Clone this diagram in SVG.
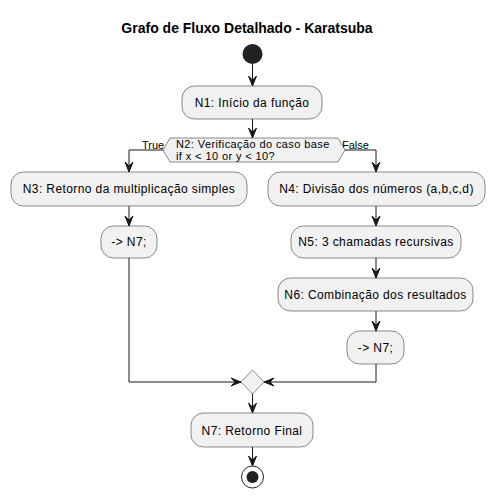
<svg xmlns="http://www.w3.org/2000/svg" width="496" height="500" viewBox="0 0 496 500">
<defs>
<style>
.box{fill:#F1F1F1;stroke:#181818;stroke-width:0.5}
.t{font-family:"Liberation Sans",Arial,sans-serif;font-size:12px;letter-spacing:0.4px;fill:#000;text-anchor:middle}
.s{font-family:"Liberation Sans",Arial,sans-serif;font-size:11px;fill:#000}
.h{letter-spacing:0.4px}
.ln{fill:none;stroke:#181818;stroke-width:1}
.ah{fill:#181818;stroke:#181818;stroke-width:1}
</style>
</defs>
<rect width="496" height="500" fill="#FFFFFF"/>
<text x="247" y="33" font-family="'Liberation Sans',Arial,sans-serif" font-size="14" font-weight="bold" text-anchor="middle">Grafo de Fluxo Detalhado - Karatsuba</text>

<g id="connectors">
<path class="ln" d="M252.5,64 V86"/>
<polygon class="ah" points="248.5,76 252.5,86 256.5,76 252.5,80"/>
<path class="ln" d="M252.5,119 V138"/>
<polygon class="ah" points="248.5,128 252.5,138 256.5,128 252.5,132"/>
<path class="ln" d="M163,150 H129 V172"/>
<polygon class="ah" points="125,162 129,172 133,162 129,166"/>
<path class="ln" d="M345,150 H376 V172"/>
<polygon class="ah" points="372,162 376,172 380,162 376,166"/>
<path class="ln" d="M129,206 V226"/>
<polygon class="ah" points="125,216 129,226 133,216 129,220"/>
<path class="ln" d="M376,206 V226"/>
<polygon class="ah" points="372,216 376,226 380,216 376,220"/>
<path class="ln" d="M376,258 V278"/>
<polygon class="ah" points="372,268 376,278 380,268 376,272"/>
<path class="ln" d="M376,311 V331"/>
<polygon class="ah" points="372,321 376,331 380,321 376,325"/>
<path class="ln" d="M129,258 V382 H241"/>
<polygon class="ah" points="231,378 241,382 231,386 235,382"/>
<path class="ln" d="M376,364 V382 H264"/>
<polygon class="ah" points="274,378 264,382 274,386 270,382"/>
<path class="ln" d="M252.5,394 V413"/>
<polygon class="ah" points="248.5,403 252.5,413 256.5,403 252.5,407"/>
<path class="ln" d="M252.5,447 V466"/>
<polygon class="ah" points="248.5,456 252.5,466 256.5,456 252.5,460"/>
<text class="s" x="142" y="149">True</text>
<text class="s" x="342" y="149">False</text>
</g>

<g id="start"><circle cx="252.5" cy="54" r="10" fill="#222222"/></g>

<g id="N1">
<rect class="box" x="182" y="86" width="140" height="33" rx="12.5"/>
<text class="t" x="252" y="107">N1: Início da função</text>
</g>

<g id="N2">
<polygon class="box" points="163,150 170,138 338,138 345,150 338,162 170,162"/>
<text class="s h" x="176" y="148">N2: Verificação do caso base</text>
<text class="s h" x="176" y="160">if x &lt; 10 or y &lt; 10?</text>
</g>

<g id="N3">
<rect class="box" x="11" y="172" width="236" height="34" rx="12.5"/>
<text class="t" x="129" y="193">N3: Retorno da multiplicação simples</text>
</g>

<g id="N3b">
<rect class="box" x="101" y="226" width="56" height="32" rx="12.5"/>
<text class="t" x="129" y="246">-&gt; N7;</text>
</g>

<g id="N4">
<rect class="box" x="268" y="172" width="217" height="34" rx="12.5"/>
<text class="t" x="376.5" y="193">N4: Divisão dos números (a,b,c,d)</text>
</g>

<g id="N5">
<rect class="box" x="291" y="226" width="170" height="32" rx="12.5"/>
<text class="t" x="376" y="246">N5: 3 chamadas recursivas</text>
</g>

<g id="N6">
<rect class="box" x="278" y="278" width="195" height="33" rx="12.5"/>
<text class="t" x="375.5" y="299">N6: Combinação dos resultados</text>
</g>

<g id="N6b">
<rect class="box" x="347" y="331" width="57" height="33" rx="12.5"/>
<text class="t" x="375.5" y="352">-&gt; N7;</text>
</g>

<g id="merge">
<polygon class="box" points="252.5,370 264,382 252.5,394 241,382"/>
</g>

<g id="N7">
<rect class="box" x="191" y="413" width="122" height="34" rx="12.5"/>
<text class="t" x="252" y="435">N7: Retorno Final</text>
</g>

<g id="end">
<circle cx="252.5" cy="477" r="11" fill="none" stroke="#222222" stroke-width="1"/>
<circle cx="252.5" cy="477" r="6" fill="#222222"/>
</g>
</svg>
